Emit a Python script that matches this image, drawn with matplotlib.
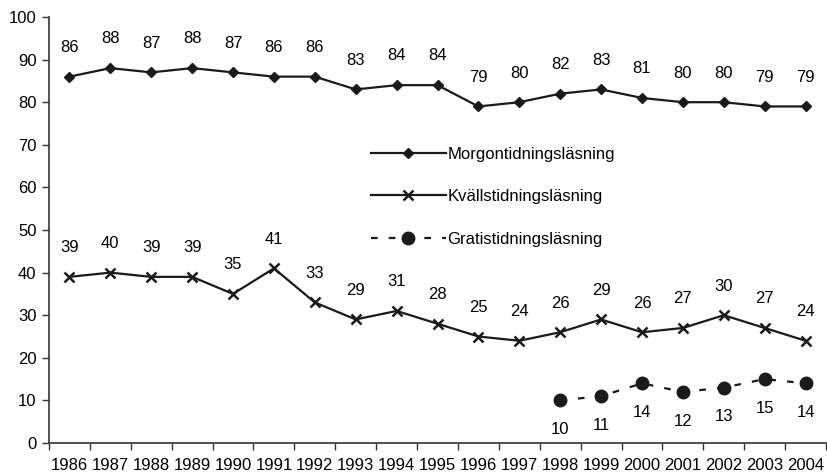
import numpy as np
import matplotlib
matplotlib.use("Agg")
import matplotlib.pyplot as plt

plt.rcParams['font.family'] = ['Liberation Sans', 'DejaVu Sans']

years = [str(y) for y in range(1986, 2005)]
morgon = [86, 88, 87, 88, 87, 86, 86, 83, 84, 84, 79, 80, 82, 83, 81, 80, 80, 79, 79]
kvall = [39, 40, 39, 39, 35, 41, 33, 29, 31, 28, 25, 24, 26, 29, 26, 27, 30, 27, 24]
gratis = [10, 11, 14, 12, 13, 15, 14]  # 1998-2004

fig = plt.figure(figsize=(8.27, 4.74), dpi=100)
ax = fig.add_axes([49 / 827, 1 - 443 / 474, 777 / 827, 426 / 474])

x = np.arange(len(years))
xg = np.arange(12, 12 + len(gratis))
col = '#1a1a1a'
fs = 12

ax.plot(x, morgon, color=col, lw=1.6, marker='D', ms=5.5, mfc=col, mec=col,
        label='Morgontidningsläsning')
ax.plot(x, kvall, color=col, lw=1.6, marker='x', ms=7.5, mew=1.8,
        label='Kvällstidningsläsning')
ax.plot(xg, gratis, color=col, lw=1.6, ls=(0, (3, 5)), marker='o', ms=9,
        label='Gratistidningsläsning')

for xi, v in zip(x, morgon):
    ax.annotate(str(v), (xi, v), xytext=(0, 21), textcoords='offset points',
                ha='center', va='center', fontsize=fs)
for xi, v in zip(x, kvall):
    ax.annotate(str(v), (xi, v), xytext=(0, 21), textcoords='offset points',
                ha='center', va='center', fontsize=fs)
for xi, v in zip(xg, gratis):
    ax.annotate(str(v), (xi, v), xytext=(0, -21), textcoords='offset points',
                ha='center', va='center', fontsize=fs)

ax.set_xlim(-0.5, len(years) - 0.5)
ax.set_ylim(0, 100)
ax.set_yticks(range(0, 101, 10))
ax.set_xticks(x)
ax.set_xticklabels(years)
ax.set_xticks(np.arange(-0.5, len(years)), minor=True)
ax.tick_params(axis='x', which='major', length=0, pad=11, labelsize=fs)
ax.tick_params(axis='x', which='minor', length=5, width=1, color='#333333')
ax.tick_params(axis='y', length=5, width=1, color='#333333', labelsize=fs, pad=4)

for side in ['top', 'right']:
    ax.spines[side].set_visible(False)
for side in ['left', 'bottom']:
    ax.spines[side].set_color('#333333')
    ax.spines[side].set_linewidth(1.2)

ax.legend(loc='upper left', bbox_to_anchor=(0.414, 0.696), frameon=False,
          handlelength=4.5, labelspacing=1.65, handletextpad=0.1, fontsize=fs,
          borderpad=0, borderaxespad=0)

fig.savefig('out.png', dpi=100)
